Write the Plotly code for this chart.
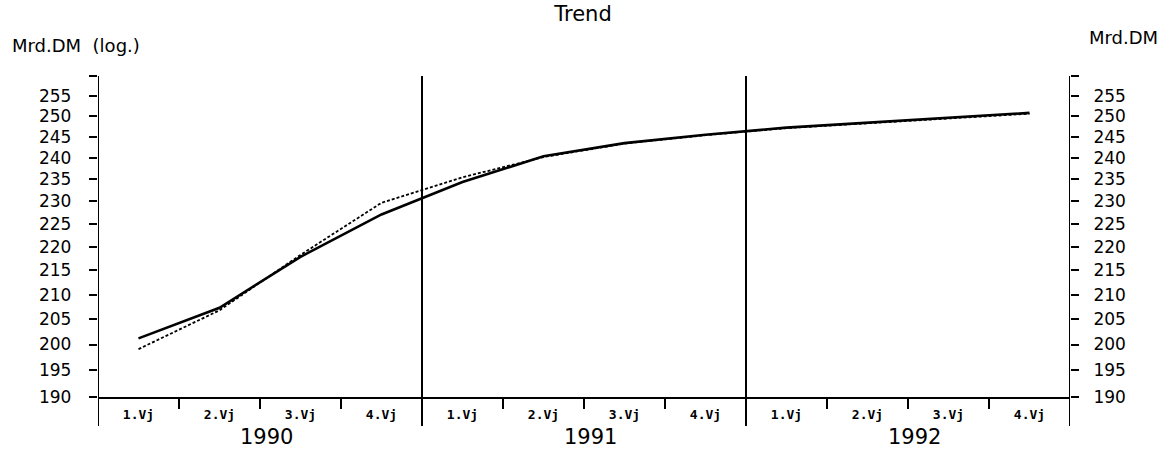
"""Trend: Quartalswerte 1990-1992, Mrd.DM, log. Skala (links) und Mrd.DM (rechts)."""
import math
import plotly.graph_objects as go

QUARTERS = ["1.Vj", "2.Vj", "3.Vj", "4.Vj"] * 3
YEARS = ["1990", "1991", "1992"]
TREND = [201.2, 207.3, 217.9, 227.1, 234.4, 240.4, 243.5, 245.5, 247.2, 248.4, 249.5, 250.8]
ORIG = [199.1, 206.8, 218.3, 229.7, 235.5, 240.2, 243.4, 245.4, 247.1, 248.3, 249.4, 250.6]
Y_TICKS = list(range(190, 265, 5))
Y_TEXT = [str(v) if v < 260 else "" for v in Y_TICKS]

FONT = "DejaVu Sans"
x = list(range(len(QUARTERS)))
yr = [math.log10(190), math.log10(260)]

fig = go.Figure()
fig.add_trace(go.Scatter(x=x, y=TREND, mode="lines", line=dict(color="black", width=2.6),
                         showlegend=False))
fig.add_trace(go.Scatter(x=x, y=ORIG, mode="lines", yaxis="y2",
                         line=dict(color="black", width=1.8, dash="3px,2px"), showlegend=False))

yax = dict(type="log", range=yr, tickvals=Y_TICKS, ticks="outside",
           ticklen=8, tickwidth=2, tickcolor="black", showgrid=False, zeroline=False,
           showline=False, tickfont=dict(family=FONT, size=17, color="black"))
fig.update_layout(
    width=1166, height=453, template="plotly_white",
    plot_bgcolor="white", paper_bgcolor="white",
    margin=dict(l=98, r=96, t=76, b=56),
    title=dict(text="Trend", x=0.5, xanchor="center", y=0.97, yanchor="middle",
               font=dict(family=FONT, size=21, color="black")),
    xaxis=dict(range=[-0.5, 11.5], tickvals=x, ticktext=QUARTERS, ticks="",
               showgrid=False, zeroline=False, showline=True, linewidth=2, linecolor="black",
               tickfont=dict(family="DejaVu Sans Mono", size=13, color="black", weight="bold"),
               ticklabelstandoff=4,
               minor=dict(tickvals=[i + 0.5 for i in x[:-1]], ticks="outside", ticklen=10,
                          tickwidth=1.5, tickcolor="black", showgrid=False)),
    # links: Abstand zur Achse ueber Ziffernleerzeichen
    yaxis=dict(yax, ticktext=[t + "\u2007\u2009" if t else t for t in Y_TEXT]),
    yaxis2=dict(yax, ticktext=Y_TEXT, overlaying="y", side="right", ticklabelstandoff=11),
)

# Jahresgrenzen und Achsenlinien (bis unter die Quartalsbeschriftung verlaengert)
for b in [-0.5, 3.5, 7.5, 11.5]:
    fig.add_shape(type="line", xref="x", yref="paper", x0=b, x1=b, y0=-0.09, y1=1,
                  line=dict(color="black", width=2))

for i, yname in enumerate(YEARS):
    fig.add_annotation(x=4 * i + 1.5, xref="x", y=-0.125, yref="paper", text=yname,
                       showarrow=False, xshift=6, yanchor="middle",
                       font=dict(family=FONT, size=21, color="black"))

fig.add_annotation(x=-0.0905, xref="paper", y=1.095, yref="paper", text="Mrd.DM  (log.)",
                   showarrow=False, xanchor="left", yanchor="middle",
                   font=dict(family=FONT, size=18, color="black"))
fig.add_annotation(x=1.0926, xref="paper", y=1.12, yref="paper", text="Mrd.DM",
                   showarrow=False, xanchor="right", yanchor="middle",
                   font=dict(family=FONT, size=18, color="black"))

fig.write_html("out.html", config={"displayModeBar": False},
               post_script="document.body.style.margin='0';document.body.style.overflow='hidden';")
